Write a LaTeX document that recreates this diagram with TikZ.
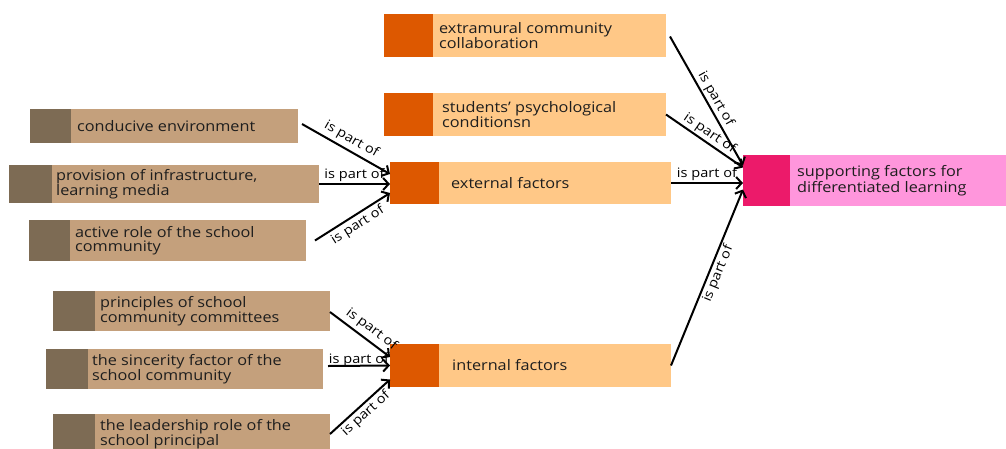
\documentclass[tikz,border=0pt]{standalone}
\usepackage{fontspec}
\setmainfont{Open Sans}[FakeStretch=1.12]
\usetikzlibrary{arrows.meta}
\definecolor{tanL}{HTML}{C4A07C}
\definecolor{tanD}{HTML}{7D6B54}
\definecolor{orL}{HTML}{FFC887}
\definecolor{orD}{HTML}{DD5800}
\definecolor{pkL}{HTML}{FF96DC}
\definecolor{pkD}{HTML}{EC1A6A}
\definecolor{txtc}{HTML}{1E1E1E}
\begin{document}
\begin{tikzpicture}[x=1pt,y=-1pt,
  box/.style={draw=none, inner sep=0pt, outer sep=0pt},
  txt/.style={anchor=west, inner sep=0pt, align=left, text=txtc, font=\fontsize{14.5}{14.5}\selectfont},
  arr/.style={line width=2pt, -{Straight Barb[length=5.5pt,width=12pt]}},
  lab/.style={sloped, inner sep=1.5pt, font=\fontsize{13}{14}\selectfont}]
\useasboundingbox (0,0) rectangle (1006,448);
% external group
\node[box, fill=orL, minimum width=282pt, minimum height=43pt] (extra) at (525,35.5) {};
\node[box, fill=orD, minimum width=49pt, minimum height=43pt, anchor=west] (extraD) at (extra.west) {};
\node[txt] (extraT) at (439,35.5) {extramural community\\collaboration};
\node[box, fill=orL, minimum width=282pt, minimum height=43pt] (stud) at (525,114.5) {};
\node[box, fill=orD, minimum width=49pt, minimum height=43pt, anchor=west] (studD) at (stud.west) {};
\node[txt] (studT) at (442,114.5) {students' psychological\\conditionsn};
\node[box, fill=orL, minimum width=281pt, minimum height=42pt] (ext) at (530.5,183) {};
\node[box, fill=orD, minimum width=49pt, minimum height=42pt, anchor=west] (extD) at (ext.west) {};
\node[txt] (extT) at (451,183) {external factors};
\node[box, fill=tanL, minimum width=268pt, minimum height=34pt] (cond) at (164,126) {};
\node[box, fill=tanD, minimum width=41pt, minimum height=34pt, anchor=west] (condD) at (cond.west) {};
\node[txt] (condT) at (77,126) {conducive environment};
\node[box, fill=tanL, minimum width=310pt, minimum height=38pt] (prov) at (164,184) {};
\node[box, fill=tanD, minimum width=43pt, minimum height=38pt, anchor=west] (provD) at (prov.west) {};
\node[txt] (provT) at (56,184) {provision of infrastructure,\\learning media};
\node[box, fill=tanL, minimum width=277pt, minimum height=41pt] (act) at (167.5,240.5) {};
\node[box, fill=tanD, minimum width=41pt, minimum height=41pt, anchor=west] (actD) at (act.west) {};
\node[txt] (actT) at (75,240.5) {active role of the school\\community};
% internal group
\node[box, fill=orL, minimum width=281pt, minimum height=43pt] (int) at (530.5,365.5) {};
\node[box, fill=orD, minimum width=49pt, minimum height=43pt, anchor=west] (intD) at (int.west) {};
\node[txt] (intT) at (452,365.5) {internal factors};
\node[box, fill=tanL, minimum width=277pt, minimum height=40pt] (prin) at (191.5,311) {};
\node[box, fill=tanD, minimum width=42pt, minimum height=40pt, anchor=west] (prinD) at (prin.west) {};
\node[txt] (prinT) at (100,311) {principles of school\\community committees};
\node[box, fill=tanL, minimum width=277pt, minimum height=40pt] (sinc) at (184.5,369) {};
\node[box, fill=tanD, minimum width=42pt, minimum height=40pt, anchor=west] (sincD) at (sinc.west) {};
\node[txt] (sincT) at (92,369) {the sincerity factor of the\\school community};
\node[box, fill=tanL, minimum width=277pt, minimum height=40pt] (lead) at (191.5,434) {};
\node[box, fill=tanD, minimum width=42pt, minimum height=40pt, anchor=west] (leadD) at (lead.west) {};
\node[txt] (leadT) at (100,434) {the leadership role of the\\school principal};
% target
\node[box, fill=pkL, minimum width=263pt, minimum height=51pt] (sup) at (874.5,180.5) {};
\node[box, fill=pkD, minimum width=47pt, minimum height=51pt, anchor=west] (supD) at (sup.west) {};
\node[txt] (supT) at (797,180.5) {supporting factors for\\differentiated learning};
% connectors
\draw[arr] ([xshift=4pt,yshift=2pt]cond.east) -- ([yshift=9pt]ext.west) node[lab, midway, above=2pt] {is part of};
\draw[arr] (prov.east) -- (prov.east -| ext.west) node[lab, midway, above, inner sep=1pt] {is part of};
\draw[arr] ([xshift=9pt]act.east) -- ([yshift=-10pt]ext.west) node[lab, pos=0.5, below=1pt] {is part of};
\draw[arr] ([xshift=4pt,yshift=-1pt]extra.east) -- ([yshift=15pt]sup.west) node[lab, pos=0.52, above] {is part of};
\draw[arr] (stud.east) -- ([yshift=13pt]sup.west) node[lab, midway, above] {is part of};
\draw[arr] (ext.east) -- (ext.east -| sup.west) node[lab, midway, above, inner sep=1pt] {is part of};
\draw[arr] (int.east) -- ([yshift=-9pt]sup.west) node[lab, pos=0.54, below] {is part of};
\draw[arr] ([yshift=-1pt]prin.east) -- ([yshift=8.5pt]int.west) node[lab, pos=0.58, above=2pt] {is part of};
\draw[arr] ([xshift=5pt,yshift=3pt]sinc.east) -- (int.west) node[lab, midway, above=-3pt] {is part of};
\draw[arr] (lead.east) -- ([yshift=-14pt]int.west) node[lab, midway, below] {is part of};
\end{tikzpicture}
\end{document}
